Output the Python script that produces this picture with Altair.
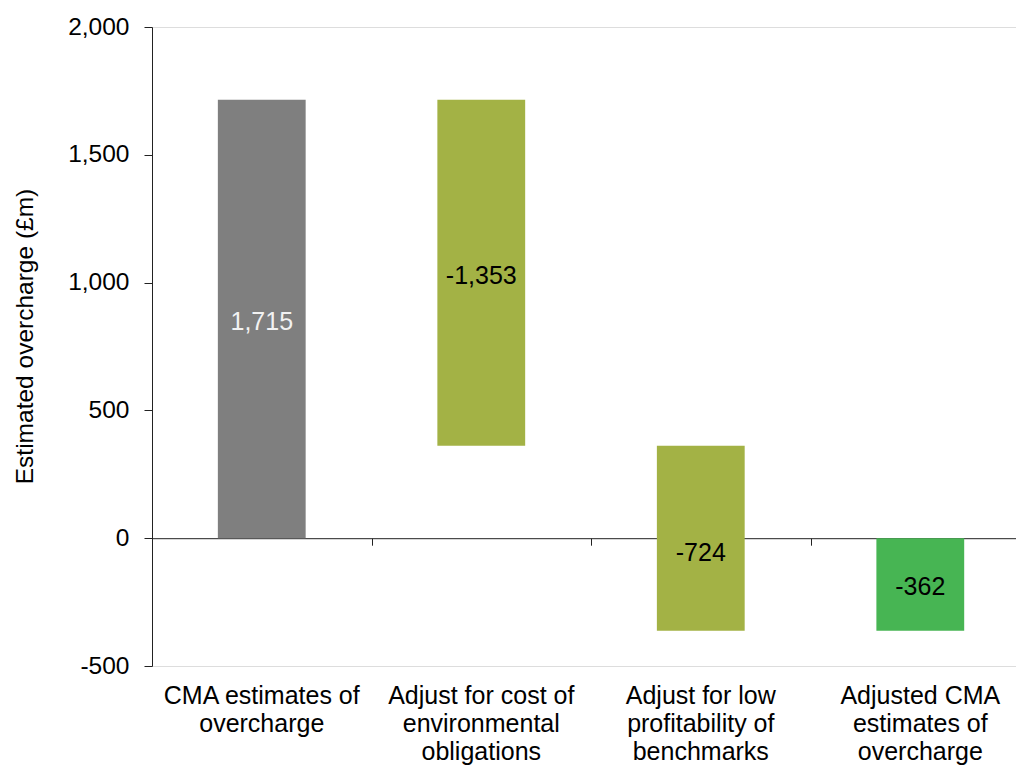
import altair as alt
import pandas as pd

categories = [
    "CMA estimates of\novercharge",
    "Adjust for cost of\nenvironmental\nobligations",
    "Adjust for low\nprofitability of\nbenchmarks",
    "Adjusted CMA\nestimates of\novercharge",
]
values = [1715, -1353, -724, -362]
kinds = ["start", "adjust", "adjust", "total"]

# waterfall geometry from the values
rows = []
running = 0
for i, (cat, v, k) in enumerate(zip(categories, values, kinds)):
    if k == "total":
        lo, hi = 0, v
        running = v
    else:
        lo, hi = running, running + v
        running = running + v
    rows.append({
        "cat": cat,
        "pos": i + 0.5,
        "left": i + 0.3,
        "right": i + 0.7,
        "start": lo,
        "end": hi,
        "mid": (lo + hi) / 2,
        "cross": lo * hi < 0,
        "value": v,
        "label": f"{v:,}",
        "kind": k,
    })
df = pd.DataFrame(rows)

FONT = "Liberation Sans"
W, H = 864, 639
xscale = alt.Scale(domain=[0, 3.936], nice=False, zero=False)
yscale = alt.Scale(domain=[-500, 2000], nice=False)

base = alt.Chart(df)

bars = base.mark_bar().encode(
    x=alt.X("left:Q", scale=xscale,
            axis=alt.Axis(values=[1, 2, 3], labels=False, title=None, grid=False,
                          tickSize=7, tickColor="#222", domainColor="#222",
                          offset=-H * 500 / 2500, orient="bottom")),
    x2="right:Q",
    y=alt.Y("start:Q", scale=yscale,
            axis=alt.Axis(values=[-500, 0, 500, 1000, 1500, 2000],
                          labelExpr="replace(format(datum.value, ','), '\u2212', '-')",
                          title="Estimated overcharge (\u00a3m)", grid=False,
                          tickSize=8, tickColor="#222", domainColor="#222",
                          labelPadding=15, labelFontSize=24.5, labelFont=FONT,
                          labelColor="#000",
                          titleFont=FONT, titleFontSize=24.5, titleFontWeight="normal",
                          titleColor="#000", titleAngle=-90, titleX=-127, titleY=309,
                          titleAlign="center", titleBaseline="middle")),
    y2="end:Q",
    color=alt.Color("kind:N", legend=None,
                    scale=alt.Scale(domain=["start", "adjust", "total"],
                                    range=["#7f7f7f", "#a3b245", "#47b553"])),
)

label_enc = dict(
    x=alt.X("pos:Q", scale=xscale),
    y=alt.Y("mid:Q", scale=yscale),
    text="label:N",
    color=alt.condition(alt.datum.value > 0, alt.value("#f2f2f2"), alt.value("#000")),
)

labels = base.transform_filter("!datum.cross").mark_text(
    font=FONT, fontSize=25, baseline="middle", align="center", dy=3).encode(**label_enc)

labels_cross = base.transform_filter("datum.cross").mark_text(
    font=FONT, fontSize=25, baseline="middle", align="center", dy=15).encode(**label_enc)

cats = base.mark_text(font=FONT, fontSize=25, baseline="alphabetic", align="center",
                      lineBreak="\n", lineHeight=28, dy=38, color="#000").encode(
    x=alt.X("pos:Q", scale=xscale),
    y=alt.datum(-500, scale=yscale),
    text="cat:N",
)

chart = alt.layer(bars, labels, labels_cross, cats).properties(
    width=W, height=H,
    autosize=alt.AutoSizeParams(type="none"),
    padding={"left": 152, "top": 27, "right": 0, "bottom": 99},
).configure_view(stroke=None).configure(background="white")

chart.save("out.html", embed_options={"renderer": "svg", "actions": False})
